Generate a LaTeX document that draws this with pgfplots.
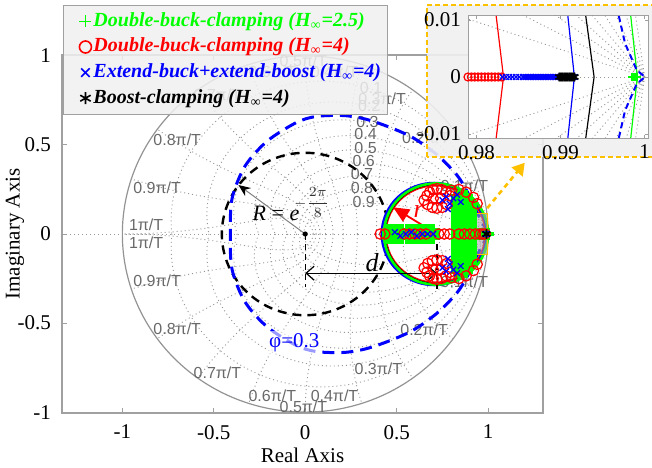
\documentclass[border=0pt]{standalone}
\usepackage{fontspec}
\setmainfont{Liberation Serif}
\setsansfont{Liberation Sans}
\usepackage{pgfplots}
\pgfplotsset{compat=1.18}
\usetikzlibrary{arrows.meta}
\definecolor{framec}{RGB}{160,160,160}
\definecolor{gridc}{RGB}{150,150,150}
\definecolor{lblc}{RGB}{105,105,105}
\definecolor{gold}{RGB}{255,192,0}
\definecolor{panel}{RGB}{240,240,240}
\tikzset{
  gridline/.style={gridc, line width=0.45pt, dash pattern=on 0.5pt off 1.5pt},
  wnlbl/.style={lblc, font=\sffamily\fontsize{8}{9}\selectfont, inner sep=0pt},
}
\pgfplotsset{
  mymarks/.style={only marks, legend image code/.code={\draw[draw opacity=0, line width=0.1pt] (-9pt,0pt) -- (1.5pt,0pt); \draw[mark repeat=2,mark phase=2,##1] plot coordinates {(-1pt,0pt)(0pt,0pt)(1pt,0pt)};}},
  greenmk/.style={only marks, mark=+, color=green, mark size=3.2pt, line width=2.2pt},
  redmk/.style={only marks, mark=o, color=red, mark size=2.6pt, line width=0.6pt},
  bluemk/.style={only marks, mark=x, color=blue, mark size=2pt, line width=0.6pt},
  blackmk/.style={only marks, mark=asterisk, color=black, mark size=2.2pt, line width=0.6pt},
}
\begin{document}
\begin{tikzpicture}
\useasboundingbox (0,0) rectangle (326pt,233.5pt);
\begin{axis}[
  at={(31pt,27pt)}, anchor=south west,
  scale only axis, width=240.5pt, height=179pt,
  xmin=-1.33, xmax=1.30, ymin=-1.005, ymax=1.005,
  xtick={-1,-0.5,0,0.5,1}, xticklabels={-1,-0.5,0,0.5,1},
  ytick={-1,-0.5,0,0.5,1}, yticklabels={-1,-0.5,0,0.5,1},
  major tick length=2.5pt,
  axis line style={framec, line width=0.6pt}, tick style={framec, line width=0.5pt},
  ticklabel style={font=\fontsize{10.5}{12}\selectfont},
  xticklabel style={yshift=-2.5pt},
  yticklabel style={xshift=-2pt},
  xlabel={Real Axis}, ylabel={Imaginary Axis},
  label style={font=\fontsize{10.5}{12}\selectfont},
  xlabel style={at={(axis description cs:0.5,-0.117)}, anchor=center},
  ylabel style={at={(axis description cs:-0.098,0.5)}, anchor=center},
  legend cell align=left,
  legend style={at={(axis description cs:0.002,1.1397)}, anchor=north west,
     fill=panel, fill opacity=0.85, draw opacity=1, text opacity=1, draw=framec,
     font=\fontsize{10}{12}\selectfont\bfseries\itshape,
     row sep=0.8pt, inner xsep=2pt, inner ysep=2pt,
     nodes={inner sep=1pt, text depth=0.25em, text height=0.75em}},
  legend image post style={line width=0.8pt, mark size=3pt},
]
% ---- z-plane grid (damping and natural frequency curves)
\pgfplotsinvokeforeach{0.1,0.2,0.3,0.4,0.5,0.6,0.7,0.8,0.9}{
  \draw[gridline] plot[domain=-180:180, samples=91, smooth] ({exp(-#1/sqrt(1-#1*#1)*abs(\x)*pi/180)*cos(\x)}, {exp(-#1/sqrt(1-#1*#1)*abs(\x)*pi/180)*sin(\x)});
}
\pgfplotsinvokeforeach{1,2,3,4,5,6,7,8,9,10}{
  \draw[gridline] plot[domain=0:90, samples=31, smooth] ({exp(-#1*pi/10*cos(\x))*cos(18*#1*sin(\x))}, {exp(-#1*pi/10*cos(\x))*sin(18*#1*sin(\x))});
  \draw[gridline] plot[domain=0:90, samples=31, smooth] ({exp(-#1*pi/10*cos(\x))*cos(18*#1*sin(\x))}, {-exp(-#1*pi/10*cos(\x))*sin(18*#1*sin(\x))});
}
\draw[gridline] (axis cs:-1.33,0) -- (axis cs:1.30,0);
\draw[gray!85, line width=0.6pt] plot[domain=0:360, samples=121, smooth] ({cos(\x)},{sin(\x)});
% ---- grid labels
\node[wnlbl] at (axis cs:0.87,0.27) {0.1π/T};
\node[wnlbl] at (axis cs:0.87,-0.27) {0.1π/T};
\node[wnlbl] at (axis cs:0.66,0.54) {0.2π/T};
\node[wnlbl] at (axis cs:0.65,-0.54) {0.2π/T};
\node[wnlbl] at (axis cs:0.42,0.76) {0.3π/T};
\node[wnlbl] at (axis cs:0.40,-0.755) {0.3π/T};
\node[wnlbl] at (axis cs:0.16,0.91) {0.4π/T};
\node[wnlbl] at (axis cs:0.16,-0.91) {0.4π/T};
\node[wnlbl] at (axis cs:-0.01,0.97) {0.5π/T};
\node[wnlbl] at (axis cs:-0.01,-0.97) {0.5π/T};
\node[wnlbl] at (axis cs:-0.18,0.91) {0.6π/T};
\node[wnlbl] at (axis cs:-0.18,-0.91) {0.6π/T};
\node[wnlbl] at (axis cs:-0.48,0.78) {0.7π/T};
\node[wnlbl] at (axis cs:-0.48,-0.78) {0.7π/T};
\node[wnlbl] at (axis cs:-0.70,0.53) {0.8π/T};
\node[wnlbl] at (axis cs:-0.70,-0.53) {0.8π/T};
\node[wnlbl] at (axis cs:-0.81,0.26) {0.9π/T};
\node[wnlbl] at (axis cs:-0.81,-0.26) {0.9π/T};
\node[wnlbl] at (axis cs:-0.87,0.05) {1π/T};
\node[wnlbl] at (axis cs:-0.87,-0.05) {1π/T};
\node[wnlbl] at (axis cs:0.36,0.82) {0.1};
\node[wnlbl] at (axis cs:0.35,0.72) {0.2};
\node[wnlbl] at (axis cs:0.34,0.63) {0.3};
\node[wnlbl] at (axis cs:0.33,0.56) {0.4};
\node[wnlbl] at (axis cs:0.33,0.485) {0.5};
\node[wnlbl] at (axis cs:0.32,0.41) {0.6};
\node[wnlbl] at (axis cs:0.31,0.335) {0.7};
\node[wnlbl] at (axis cs:0.31,0.26) {0.8};
\node[wnlbl] at (axis cs:0.32,0.18) {0.9};
% ---- dashed circles
\draw[black, line width=1.2pt, dash pattern=on 4.5pt off 3pt] plot[domain=0:360, samples=91, smooth] ({0.456*cos(\x)},{0.456*sin(\x)});
\addplot[blue, line width=1.5pt, dash pattern=on 6pt off 3.5pt, smooth, forget plot] coordinates {
(1.0,0) (0.9975,0.012) (0.965,0.07) (0.93,0.14) (0.89,0.23) (0.83,0.33) (0.72,0.445) (0.59,0.54) (0.46,0.60) (0.33,0.645) (0.21,0.665) (0.06,0.66) (-0.05,0.625) (-0.21,0.52) (-0.33,0.38) (-0.40,0.2) (-0.41,0)
(-0.40,-0.2) (-0.33,-0.38) (-0.21,-0.52) (-0.05,-0.625) (0.06,-0.66) (0.21,-0.665) (0.33,-0.645) (0.46,-0.60) (0.59,-0.54) (0.72,-0.445) (0.83,-0.33) (0.89,-0.23) (0.93,-0.14) (0.965,-0.07) (0.9975,-0.012) (1.0,0)};
% ---- small circles
\draw[red, line width=0.8pt] plot[domain=0:360, samples=73] ({0.712+0.2712*cos(\x)},{0.2712*sin(\x)});
\draw[black, line width=0.8pt] plot[domain=0:360, samples=73] ({0.715+0.279*cos(\x)},{0.279*sin(\x)});
\draw[blue, line width=1.2pt] plot[domain=0:360, samples=73] ({0.705+0.2867*cos(\x)},{0.2867*sin(\x)});
\draw[green, line width=1.3pt] plot[domain=0:360, samples=73] ({0.715+0.2841*cos(\x)},{0.2841*sin(\x)});
% ---- poles
\addplot[mymarks, greenmk] coordinates {
(0.455,-0.02) (0.48,-0.02) (0.505,-0.02) (0.53,-0.02) (0.555,-0.02) (0.58,-0.02) (0.605,-0.02) (0.63,-0.02) (0.655,-0.02) (0.68,-0.02) (0.70,-0.02)
(0.455,0) (0.48,0) (0.505,0) (0.53,0) (0.555,0) (0.58,0) (0.605,0) (0.63,0) (0.655,0) (0.68,0) (0.70,0)
(0.455,0.02) (0.48,0.02) (0.505,0.02) (0.53,0.02) (0.555,0.02) (0.58,0.02) (0.605,0.02) (0.63,0.02) (0.655,0.02) (0.68,0.02) (0.70,0.02)
(0.95,0) (0.975,0) (0.999,0)};
\addlegendentry{\textcolor{green}{Double-buck-clamping (H\textsubscript{∞}=2.5)}}
\pgfplotsinvokeforeach{0.83,0.855,0.88}{
\addplot[greenmk, forget plot] coordinates {(#1,-0.21)(#1,-0.19)(#1,-0.17)(#1,-0.15)(#1,-0.13)(#1,-0.11)(#1,-0.09)(#1,-0.07)(#1,-0.05)(#1,-0.03)(#1,-0.01)(#1,0.01)(#1,0.03)(#1,0.05)(#1,0.07)(#1,0.09)(#1,0.11)(#1,0.13)(#1,0.15)(#1,0.17)(#1,0.19)(#1,0.21)};
}
\addplot[greenmk, forget plot] coordinates {(0.905,-0.17)(0.905,-0.15)(0.905,-0.13)(0.905,-0.11)(0.905,-0.09)(0.905,-0.07)(0.905,-0.05)(0.905,-0.03)(0.905,-0.01)(0.905,0.01)(0.905,0.03)(0.905,0.05)(0.905,0.07)(0.905,0.09)(0.905,0.11)(0.905,0.13)(0.905,0.15)(0.905,0.17)};
\addplot[mymarks, redmk] coordinates {
(0.41,0) (0.435,0) (0.54,0) (0.57,0) (0.60,0) (0.63,0) (0.66,0) (0.73,0) (0.76,0) (0.79,0) (0.84,0) (0.87,0) (0.90,0) (0.93,0) (0.955,0) (0.97,0) (0.983,0)
(0.65,0.19) (0.665,0.215) (0.68,0.235) (0.70,0.25) (0.72,0.255) (0.745,0.25) (0.77,0.235) (0.79,0.215) (0.67,0.165) (0.695,0.15) (0.72,0.145) (0.75,0.15) (0.775,0.165) (0.70,0.20) (0.74,0.20)
(0.65,-0.19) (0.665,-0.215) (0.68,-0.235) (0.70,-0.25) (0.72,-0.255) (0.745,-0.25) (0.77,-0.235) (0.79,-0.215) (0.67,-0.165) (0.695,-0.15) (0.72,-0.145) (0.75,-0.15) (0.775,-0.165) (0.70,-0.20) (0.74,-0.20)
(0.80,0.245) (0.84,0.25) (0.88,0.235) (0.92,0.205) (0.94,0.17)
(0.80,-0.245) (0.84,-0.25) (0.88,-0.235) (0.92,-0.205) (0.94,-0.17)};
\addlegendentry{\textcolor{red}{Double-buck-clamping (H\textsubscript{∞}=4)}}
\addplot[mymarks, bluemk] coordinates {
(0.49,0.01) (0.52,-0.01) (0.55,0) (0.58,0.01) (0.61,-0.01) (0.64,0) (0.67,0) (0.70,0)
(0.75,0.19) (0.77,0.21) (0.79,0.17) (0.81,0.20) (0.83,0.22) (0.85,0.18) (0.78,0.14)
(0.75,-0.19) (0.77,-0.21) (0.79,-0.17) (0.81,-0.20) (0.83,-0.22) (0.85,-0.18) (0.78,-0.14)
(0.985,0) (0.988,0) (0.991,0)};
\addlegendentry{\textcolor{blue}{Extend-buck+extend-boost (H\textsubscript{∞}=4)}}
\addplot[mymarks, blackmk] coordinates {(0.9898,0) (0.9905,0) (0.9912,0) (0.9917,0)};
\addlegendentry{Boost-clamping (H\textsubscript{∞}=4)}
% ---- zoom box and arrow
\fill[gray!70, fill opacity=0.55] (axis cs:0.895,-0.115) rectangle (axis cs:0.995,0.115);
\draw[gold, line width=0.6pt] (axis cs:0.895,-0.115) rectangle (axis cs:0.995,0.115);
\draw[gold, line width=1.3pt, dash pattern=on 2.5pt off 2pt, -{Triangle[length=6pt,width=7pt]}] (axis cs:0.995,0.145) -- (axis cs:1.20,0.40);
% ---- R annotation
\draw[gray, line width=0.5pt, -{Stealth[black,length=6pt,width=5pt,inset=2pt]}] (axis cs:0,0) -- (axis cs:-0.365,0.275);
\fill[black] (axis cs:0,0) circle[radius=1.3pt];
\node[font=\fontsize{11}{12}\selectfont] at (axis cs:-0.16,0.115) {\textit{R} = \textit{e}};
\node[black!80, font=\fontsize{7}{8}\selectfont] at (axis cs:0.035,0.175) {$\displaystyle -\frac{2\pi}{8}$};
% ---- d annotation
\draw[black, line width=0.6pt, dash pattern=on 3pt off 2pt] (axis cs:0,0) -- (axis cs:0,-0.30);
\draw[black, line width=0.6pt, dash pattern=on 3pt off 2pt] (axis cs:0.72,0) -- (axis cs:0.72,-0.31);
\draw[black, line width=0.6pt, {Straight Barb[length=4pt,width=7pt]}-{Straight Barb[length=4pt,width=7pt]}] (axis cs:0,-0.22) -- (axis cs:0.72,-0.22);
\node[font=\fontsize{13}{14}\selectfont\itshape] at (axis cs:0.365,-0.16) {d};
% ---- r annotation
\draw[red, line width=0.9pt, -{Triangle[length=8pt,width=7pt]}] (axis cs:0.72,0) -- (axis cs:0.48,0.15);
\fill[black] (axis cs:0.72,0) circle[radius=1.3pt];
\node[red, font=\fontsize{13}{14}\selectfont\itshape] at (axis cs:0.62,0.125) {r};
% ---- phi label
\node[blue, fill=white, fill opacity=0.6, text opacity=1, inner sep=1pt, font=\fontsize{10.5}{12}\selectfont] at (axis cs:-0.06,-0.61) {φ=0.3};
\end{axis}
% ---- inset panel
\fill[panel, fill opacity=0.9] (213.5pt,155pt) rectangle (330pt,231pt);
\draw[gold, line width=0.9pt, dash pattern=on 2.5pt off 1.5pt] (213.5pt,155pt) rectangle (330pt,231pt);
\begin{axis}[
  at={(234pt,164.5pt)}, anchor=south west,
  scale only axis, width=90pt, height=61pt,
  xmin=0.979, xmax=1.0004, ymin=-0.0107, ymax=0.0107,
  scaled ticks=false,
  xtick={0.98,0.99,1}, xticklabels={0.98,0.99,1},
  ytick={-0.01,0,0.01}, yticklabels={-0.01,0,0.01},
  major tick length=1.5pt,
  axis background/.style={fill=white},
  axis line style={framec, line width=0.5pt}, tick style={framec},
  ticklabel style={font=\fontsize{10.5}{12}\selectfont},
]
\pgfplotsinvokeforeach{0.998794,0.997551,0.996226,0.994763,0.993072,0.991,0.988238,0.984,0.975224}{
  \addplot[gridline, forget plot] coordinates {(1,0) (#1,0.012)};
  \addplot[gridline, forget plot] coordinates {(1,0) (#1,-0.012)};
}
\addplot[gridline, forget plot] coordinates {(0.979,0) (1.0004,0)};
\addplot[red, line width=0.6pt] coordinates {(0.98235,0.0107) (0.98322,0) (0.98235,-0.0107)};
\addplot[blue, line width=0.6pt] coordinates {(0.99087,0.0107) (0.99165,0) (0.99087,-0.0107)};
\addplot[black, line width=0.6pt] coordinates {(0.99300,0.0107) (0.99399,0) (0.99300,-0.0107)};
\addplot[green, line width=0.6pt] coordinates {(0.99835,0.0107) (0.99913,0) (0.99835,-0.0107)};
\addplot[blue, line width=1pt, dash pattern=on 3pt off 2pt] coordinates {(0.99693,0.0107) (0.99767,0.0059) (0.99906,0.0012) (1.00005,0) (0.99906,-0.0012) (0.99767,-0.0059) (0.99693,-0.0107)};
\addplot[redmk, mark size=2pt] coordinates {(0.9790,0) (0.9794,0) (0.9798,0) (0.9802,0) (0.9806,0) (0.9810,0) (0.9814,0) (0.9818,0) (0.9822,0) (0.9826,0) (0.9830,0)};
\addplot[bluemk] coordinates {(0.9831,0) (0.9835,0) (0.9839,0) (0.9843,0) (0.9847,0) (0.9851,0) (0.9855,0) (0.9857,0) (0.9859,0) (0.9861,0) (0.9863,0) (0.9865,0) (0.9867,0) (0.9869,0) (0.9871,0) (0.9873,0) (0.9875,0) (0.9877,0) (0.9879,0) (0.9881,0) (0.9883,0) (0.9885,0) (0.9887,0) (0.9889,0) (0.9891,0) (0.9893,0) (0.9895,0) (0.9897,0) (0.9899,0) (0.9901,0) (0.9903,0) (0.9905,0) (0.9907,0) (0.9909,0) (0.9911,0) (0.9913,0) (0.9915,0) (0.9917,0)};
\addplot[blackmk] coordinates {(0.9898,0) (0.9899,0) (0.9900,0) (0.9901,0) (0.9902,0) (0.9903,0) (0.9904,0) (0.9905,0) (0.9906,0) (0.9907,0) (0.9908,0) (0.9909,0) (0.9910,0) (0.9911,0) (0.9912,0) (0.9913,0) (0.9914,0) (0.9915,0) (0.9916,0) (0.9917,0)};
\addplot[only marks, mark=+, color=green, mark size=2pt, line width=0.8pt] coordinates {(0.9985,0) (0.9986,0) (0.9987,0) (0.9988,0) (0.9989,0) (0.9990,0) (0.9991,0)};
\end{axis}
\end{tikzpicture}
\end{document}
